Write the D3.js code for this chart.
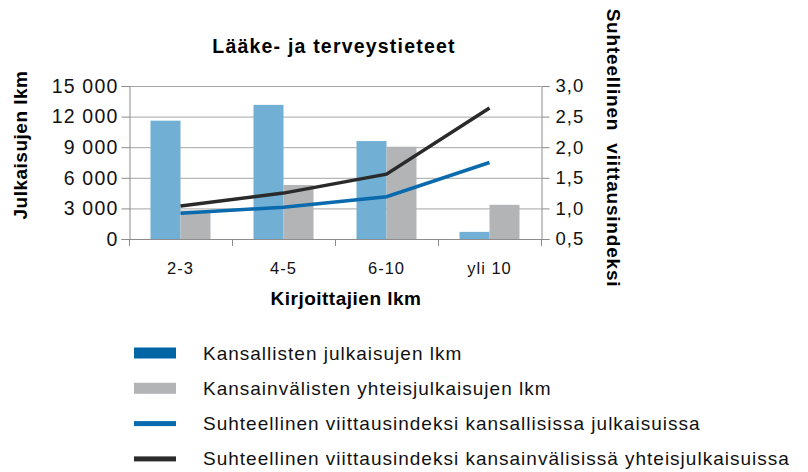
<!DOCTYPE html>
<html><head><meta charset="utf-8">
<script src="https://cdn.jsdelivr.net/npm/d3@7"></script>
<style>body{margin:0;background:#fff}svg{font-family:"Liberation Sans",Arial,Helvetica,sans-serif}</style>
</head><body><svg id="c" width="808" height="472"></svg>
<script>
const categories = ["2-3","4-5","6-10","yli 10"];
const national = [11600,13150,9600,700];
const international = [2800,5300,9050,3350];
const indexNational = [0.92,1.02,1.19,1.75];
const indexInternational = [1.04,1.25,1.56,2.64];
const leftTicks = [0,3000,6000,9000,12000,15000];
const rightTicks = [0.5,1.0,1.5,2.0,2.5,3.0];
const legendLabels = ["Kansallisten julkaisujen lkm","Kansainvälisten yhteisjulkaisujen lkm","Suhteellinen viittausindeksi kansallisissa julkaisuissa","Suhteellinen viittausindeksi kansainvälisissä yhteisjulkaisuissa"];

const svg = d3.select("#c");
const FF = '"Liberation Sans",Arial,Helvetica,sans-serif';
const L=129,R=541,T=86,B=239;
const x = d3.scaleBand().domain(categories).range([L,R]);
const y = d3.scaleLinear().domain([0,15000]).range([B,T]);
const y2 = d3.scaleLinear().domain([0.5,3.0]).range([B,T]);
const fmt = d => d3.format(",")(d).replace(/,/g," ");
const fmt2 = d => d.toFixed(1).replace(".",",");

// grid
svg.append("g").selectAll("line").data(leftTicks.slice(1)).join("line")
  .attr("x1",L).attr("x2",R).attr("y1",d=>y(d)+0.5).attr("y2",d=>y(d)+0.5)
  .attr("stroke","#a6a6a6").attr("stroke-width",1);

const bw = 30;
const colNat="#71afd4", colInt="#b2b4b6";
svg.append("g").selectAll("rect").data(national).join("rect")
  .attr("x",(d,i)=>x(categories[i])+x.bandwidth()/2-bw).attr("width",bw)
  .attr("y",d=>y(d)).attr("height",d=>B-y(d)).attr("fill",colNat);
svg.append("g").selectAll("rect").data(international).join("rect")
  .attr("x",(d,i)=>x(categories[i])+x.bandwidth()/2).attr("width",bw)
  .attr("y",d=>y(d)).attr("height",d=>B-y(d)).attr("fill",colInt);

// axes
const gl = svg.append("g").attr("transform",`translate(${L+0.5},0)`)
  .call(d3.axisLeft(y).tickValues(leftTicks).tickFormat(fmt).tickSize(8).tickPadding(3));
const gr = svg.append("g").attr("transform",`translate(${R+0.5},0)`)
  .call(d3.axisRight(y2).tickValues(rightTicks).tickFormat(fmt2).tickSize(8).tickPadding(6));
const gb = svg.append("g").attr("transform",`translate(0,${B+0.5})`)
  .call(d3.axisBottom(x).tickSize(0).tickPadding(23));
// category boundary ticks
svg.append("g").selectAll("line").data(categories.concat(["end"])).join("line")
  .attr("x1",(d,i)=>Math.round(L+i*x.bandwidth())+0.5).attr("x2",(d,i)=>Math.round(L+i*x.bandwidth())+0.5)
  .attr("y1",B).attr("y2",B+7).attr("stroke","#8c8c8c");
[gl,gr,gb].forEach(g=>{
  g.attr("font-family",FF);
  g.selectAll(".domain").attr("stroke","#8c8c8c");
  g.selectAll(".tick line").attr("stroke","#8c8c8c");
  g.selectAll("text").attr("fill","#111").attr("font-size",19.5).attr("letter-spacing",1.2);
});
gb.select(".domain").attr("d",`M${L},0H${R}`);
gb.selectAll("text").attr("font-size",16.5).attr("letter-spacing",1);
gr.selectAll("text").attr("font-size",18.5).attr("letter-spacing",1);

// lines
const line = (arr,yy)=>d3.line().x((d,i)=>x(categories[i])+x.bandwidth()/2).y(d=>yy(d))(arr);
svg.append("path").attr("d",line(indexNational,y2)).attr("fill","none").attr("stroke","#0a6aae").attr("stroke-width",3.5);
svg.append("path").attr("d",line(indexInternational,y2)).attr("fill","none").attr("stroke","#2a2a2a").attr("stroke-width",3.5);

// titles
svg.append("text").attr("x",334).attr("y",53).attr("text-anchor","middle").attr("font-weight","bold").attr("font-size",19.5).attr("letter-spacing",1.2).text("Lääke- ja terveystieteet");
svg.append("text").attr("transform","translate(27,145) rotate(-90)").attr("text-anchor","middle").attr("font-weight","bold").attr("font-size",19).attr("letter-spacing",0.5).text("Julkaisujen lkm");
svg.append("text").attr("transform","translate(607,148) rotate(90)").attr("text-anchor","middle").attr("font-weight","bold").attr("font-size",19).attr("letter-spacing",0.8).attr("xml:space","preserve").text("Suhteellinen  viittausindeksi");
svg.append("text").attr("x",346).attr("y",305).attr("text-anchor","middle").attr("font-weight","bold").attr("font-size",19).attr("letter-spacing",0.5).text("Kirjoittajien lkm");

// legend
const lg = svg.append("g");
const types = [["rect","#0065a5"],["rect","#b2b4b6"],["line","#0a6aae"],["line","#2a2a2a"]];
legendLabels.forEach((t,i)=>{
  const ly = 353 + i*35.3;
  if(types[i][0]==="rect") lg.append("rect").attr("x",134).attr("y",ly-5.5).attr("width",42).attr("height",11).attr("fill",types[i][1]);
  else lg.append("rect").attr("x",134).attr("y",ly-2.5).attr("width",42).attr("height",5).attr("fill",types[i][1]);
  lg.append("text").attr("x",203).attr("y",ly+6.5).attr("font-size",19).attr("letter-spacing",1).attr("fill","#111").text(t);
});
</script></body></html>
